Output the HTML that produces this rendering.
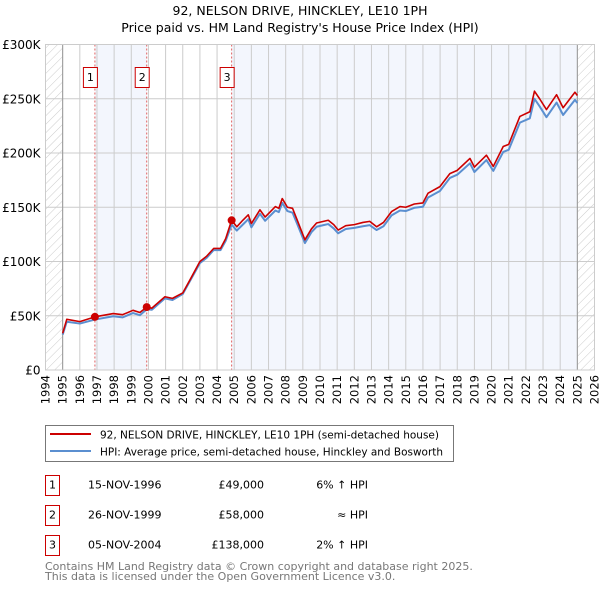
<!DOCTYPE html>
<html><head><meta charset="utf-8"><style>
body{margin:0;background:#fff;font-family:"DejaVu Sans","Liberation Sans",sans-serif;}
svg text{font-family:"DejaVu Sans","Liberation Sans",sans-serif;}
</style></head><body>
<svg id="chart" width="600" height="590" xmlns="http://www.w3.org/2000/svg">
<defs><pattern id="hatch" width="6" height="6" patternUnits="userSpaceOnUse" patternTransform="rotate(45)"><line x1="0" y1="0" x2="0" y2="6" stroke="#ccc" stroke-width="1"/></pattern></defs>
<text x="300" y="15" font-size="12.5" text-anchor="middle" fill="#000">92, NELSON DRIVE, HINCKLEY, LE10 1PH</text>
<text x="300" y="32" font-size="12.5" text-anchor="middle" fill="#000">Price paid vs. HM Land Registry's House Price Index (HPI)</text>
<g id="plot"></g>
<g>
<rect x="45.5" y="425.5" width="408" height="36" fill="#fff" stroke="#777"/>
<line x1="50" y1="434" x2="91" y2="434" stroke="#cc0000" stroke-width="2"/>
<text x="100" y="438.5" font-size="10.6" textLength="339" lengthAdjust="spacingAndGlyphs">92, NELSON DRIVE, HINCKLEY, LE10 1PH (semi-detached house)</text>
<line x1="50" y1="451" x2="91" y2="451" stroke="#5b8fd0" stroke-width="2"/>
<text x="100" y="455.5" font-size="10.6" textLength="343" lengthAdjust="spacingAndGlyphs">HPI: Average price, semi-detached house, Hinckley and Bosworth</text>
</g>
<g font-size="11">
<rect x="45.5" y="475.5" width="14" height="20" fill="#fff" stroke="#cc0000"/><text x="52.5" y="488.5" text-anchor="middle">1</text>
<text x="88" y="488.5">15-NOV-1996</text><text x="264" y="488.5" text-anchor="end">£49,000</text><text x="368" y="488.5" text-anchor="end">6% ↑ HPI</text>
<rect x="45.5" y="505.5" width="14" height="20" fill="#fff" stroke="#cc0000"/><text x="52.5" y="518.5" text-anchor="middle">2</text>
<text x="88" y="518.5">26-NOV-1999</text><text x="264" y="518.5" text-anchor="end">£58,000</text><text x="368" y="518.5" text-anchor="end">≈ HPI</text>
<rect x="45.5" y="535.5" width="14" height="20" fill="#fff" stroke="#cc0000"/><text x="52.5" y="548.5" text-anchor="middle">3</text>
<text x="88" y="548.5">05-NOV-2004</text><text x="264" y="548.5" text-anchor="end">£138,000</text><text x="368" y="548.5" text-anchor="end">2% ↑ HPI</text>
</g>
<g font-size="11" fill="#777">
<text x="45" y="570">Contains HM Land Registry data © Crown copyright and database right 2025.</text>
<text x="45" y="580">This data is licensed under the Open Government Licence v3.0.</text>
</g>
</svg>
<script>
const yearTicks=[1994,1995,1996,1997,1998,1999,2000,2001,2002,2003,2004,2005,2006,2007,2008,2009,2010,2011,2012,2013,2014,2015,2016,2017,2018,2019,2020,2021,2022,2023,2024,2025,2026];
const yTicks=[0,50,100,150,200,250,300];
const yLabels=["£0","£50K","£100K","£150K","£200K","£250K","£300K"];
const saleYears=[1996.88,1999.9,2004.85];
const salePrices=[49,58,138];
const saleLabels=["1","2","3"];
const priceT=[1995.0,1995.24,1996.0,1996.88,1997.95,1998.5,1999.1,1999.5,1999.9,2000.2,2000.96,2001.4,2002.0,2002.42,2003.0,2003.4,2003.8,2004.2,2004.5,2004.85,2005.15,2005.5,2005.82,2006.0,2006.5,2006.8,2007.4,2007.6,2007.8,2008.1,2008.4,2008.7,2009.12,2009.5,2009.8,2010.2,2010.48,2010.8,2011.06,2011.5,2012.0,2012.5,2012.9,2013.3,2013.7,2014.17,2014.66,2015.0,2015.5,2016.0,2016.3,2016.99,2017.57,2018.0,2018.74,2019.0,2019.7,2020.1,2020.68,2021.0,2021.65,2022.23,2022.5,2022.8,2023.2,2023.79,2024.17,2024.86,2025.0];
const priceV=[33.8,46.7,44.6,49,52,51,55,53,58,57,67.5,66,71,83,100,105,112,112,121,138,132,138,143,135,147.6,141,150.6,149,158,150,149,137,120,130,135.5,137,138,134,129,133,134,136,137,132,136,146,150.6,150,153,154,163,169,181,184,195,187,198,187.6,206,208,233.7,238,257,250,240,253.7,241.7,256,253];
const hpiV=[32.5,44.5,42.8,46.5,49.5,48.5,52.5,50.5,56,55.5,66,64.5,70,82,98.5,103.5,110.5,110.5,119,134,128.5,134,139,131.5,144,137.5,147,145.5,154,146.5,145,133.5,117,127,132,133.5,134.5,130.5,126,130,131,132.5,133.5,129,132.5,142.5,147,146.5,149.5,150.5,159,165,177,180,190.5,182.5,193.5,183.5,201,203,228,232,250,243,233,246.5,235,249,246];
const ns="http://www.w3.org/2000/svg";
const X0=45.5,X1=594.5,Y0=370,Y1=44.5;
const xs=y=>X0+(y-1994)/(2026-1994)*(X1-X0);
const ys=v=>Y0-v/300*(Y0-Y1);
const g=document.getElementById('plot');
function mk(t,a){const e=document.createElementNS(ns,t);for(const k in a)e.setAttribute(k,a[k]);g.appendChild(e);return e;}
let e;
e=mk('rect',{x:X0,y:Y1,width:X1-X0,height:Y0-Y1,fill:'#fff'});


e=mk('rect',{x:xs(saleYears[0]),y:Y1,width:xs(saleYears[1])-xs(saleYears[0]),height:Y0-Y1,fill:'#f3f6fd'});


e=mk('rect',{x:xs(saleYears[2]),y:Y1,width:xs(2025)-xs(saleYears[2]),height:Y0-Y1,fill:'#f3f6fd'});


e=mk('rect',{x:X0,y:Y1,width:xs(1995)-X0,height:Y0-Y1,fill:'url(#hatch)'});


e=mk('rect',{x:xs(2025),y:Y1,width:X1-xs(2025),height:Y0-Y1,fill:'url(#hatch)'});


yearTicks.forEach(y=>{
 e=mk('line',{x1:xs(y),x2:xs(y),y1:Y1,y2:Y0,stroke:'#ccc','stroke-width':1});
 
 
 e=mk('text',{x:0,y:0,'font-size':11.5,'text-anchor':'end',transform:`translate(${xs(y)+4},${Y0+5}) rotate(-90)`});
 e.textContent=y;
 
 
});
yTicks.forEach((v,i)=>{
 e=mk('line',{x1:X0,x2:X1,y1:ys(v),y2:ys(v),stroke:'#ccc','stroke-width':1});
 
 
 e=mk('text',{x:X0-5,y:ys(v)+4.5,'font-size':12,'text-anchor':'end'});
 e.textContent=yLabels[i];
 
 
});
e=mk('line',{x1:xs(1995),x2:xs(1995),y1:Y1,y2:Y0,stroke:'#999'});


e=mk('line',{x1:xs(2025),x2:xs(2025),y1:Y1,y2:Y0,stroke:'#999'});


saleYears.forEach((s,i)=>{
 e=mk('line',{x1:xs(s),x2:xs(s),y1:Y1,y2:Y0,stroke:'#e06060','stroke-dasharray':'2,2','stroke-width':1});
 
 
 e=mk('rect',{x:xs(s)-11.5,y:67.5,width:14,height:20,fill:'#fff',stroke:'#cc0000'});
 
 
 e=mk('text',{x:xs(s)-4.5,y:81,'font-size':11,'text-anchor':'middle'});
 e.textContent=saleLabels[i];
 
 
});
e=mk('polyline',{points:priceT.map((t,i)=>xs(t)+','+ys(hpiV[i])).join(' '),fill:'none',stroke:'#5b8fd0','stroke-width':2,'stroke-linejoin':'round'});


e=mk('polyline',{points:priceT.map((t,i)=>xs(t)+','+ys(priceV[i])).join(' '),fill:'none',stroke:'#cc0000','stroke-width':1.6,'stroke-linejoin':'round'});


saleYears.forEach((s,i)=>{
 e=mk('circle',{cx:xs(s),cy:ys(salePrices[i]),r:4,fill:'#cc0000'});
 
 
});
e=mk('rect',{x:X0,y:Y1,width:X1-X0,height:Y0-Y1,fill:'none',stroke:'#ccc'});


</script>
</body></html>
